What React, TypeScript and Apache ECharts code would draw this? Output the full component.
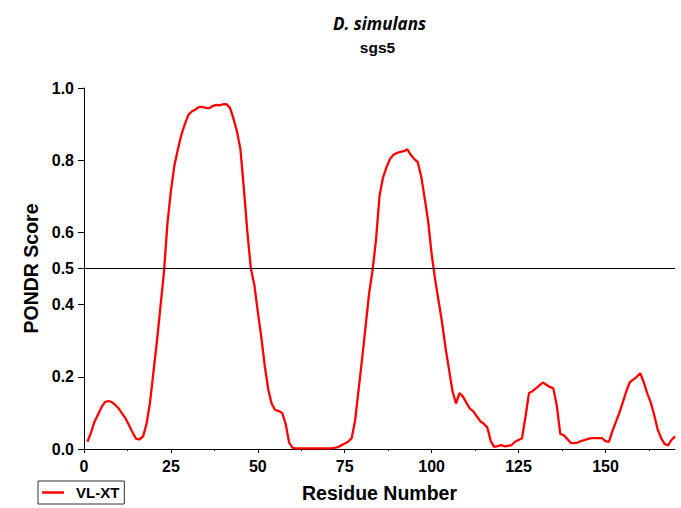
import React, { useEffect, useRef } from "react";
import * as echarts from "echarts";

const titleMain = "D. simulans";
const titleSub = "sgs5";
const seriesName = "VL-XT";
const xName = "Residue Number";
const yName = "PONDR Score";

const xTickValues = [0, 25, 50, 75, 100, 125, 150];
const xMinorTickValues = [12.5, 37.5, 62.5, 87.5, 112.5, 137.5, 162.5];
const yTickValues = [0, 0.2, 0.4, 0.5, 0.6, 0.8, 1.0];
const threshold = 0.5;

// PONDR VL-XT score per residue (residue 1..170)
const scores = [
  0.02, 0.045, 0.075, 0.095, 0.115, 0.13, 0.133, 0.13, 0.122, 0.112,
  0.098, 0.084, 0.065, 0.045, 0.028, 0.027, 0.035, 0.07, 0.13, 0.215,
  0.3, 0.395, 0.49, 0.625, 0.715, 0.785, 0.83, 0.87, 0.9, 0.925,
  0.935, 0.94, 0.947, 0.948, 0.945, 0.944, 0.95, 0.953, 0.952, 0.955,
  0.955, 0.945, 0.915, 0.88, 0.83, 0.72, 0.6, 0.5, 0.455, 0.38,
  0.31, 0.23, 0.165, 0.125, 0.108, 0.105, 0.1, 0.07, 0.018, 0.003,
  0.002, 0.002, 0.002, 0.002, 0.002, 0.002, 0.002, 0.002, 0.002, 0.002,
  0.002, 0.003, 0.005, 0.01, 0.015, 0.02, 0.03, 0.08, 0.165, 0.25,
  0.34, 0.43, 0.495, 0.58, 0.7, 0.752, 0.78, 0.803, 0.815, 0.82,
  0.823, 0.825, 0.83, 0.815, 0.803, 0.795, 0.755, 0.695, 0.63, 0.54,
  0.47, 0.41, 0.35, 0.28, 0.22, 0.16, 0.126, 0.155, 0.145, 0.128,
  0.112, 0.104, 0.09, 0.077, 0.07, 0.06, 0.022, 0.006, 0.008, 0.011,
  0.007, 0.009, 0.011, 0.02, 0.025, 0.03, 0.09, 0.155, 0.16, 0.168,
  0.176, 0.184, 0.178, 0.172, 0.168, 0.12, 0.042, 0.038, 0.028, 0.017,
  0.016, 0.018, 0.022, 0.025, 0.028, 0.03, 0.03, 0.03, 0.03, 0.022,
  0.02, 0.05, 0.075, 0.1, 0.13, 0.16, 0.185, 0.192, 0.2, 0.21,
  0.185, 0.155, 0.13, 0.095, 0.055, 0.03, 0.014, 0.01, 0.025, 0.035,
];
const residues = scores.map((_, i) => i + 1);

const AXIS_FONT = "'Liberation Sans', Arial, Helvetica, sans-serif";

export default function App() {
  const ref = useRef<HTMLDivElement>(null);
  useEffect(() => {
    document.body.style.margin = "0";
    if (!ref.current) return;
    const chart = echarts.init(ref.current, undefined, { renderer: "svg" });
    const gridLeft = 84;
    const gridRight = 6;
    const plotCenter = gridLeft + (681 - gridLeft - gridRight) / 2;
    chart.setOption({
      animation: false,
      backgroundColor: "#ffffff",
      grid: { left: gridLeft, right: gridRight, top: 88, bottom: 57, containLabel: false },
      graphic: [
        {
          type: "text",
          x: plotCenter,
          y: 23,
          style: {
            text: titleMain,
            fontFamily: "'Open Sans', sans-serif",
            fontStyle: "italic",
            fontWeight: "bold",
            fontSize: 17,
            fill: "#000",
            align: "center",
            verticalAlign: "middle",
          },
        },
        {
          type: "text",
          x: plotCenter - 2,
          y: 47,
          style: {
            text: titleSub,
            fontFamily: AXIS_FONT,
            fontWeight: "bold",
            fontSize: 15.5,
            fill: "#000",
            align: "center",
            verticalAlign: "middle",
          },
        },
      ],
      legend: {
        left: 38,
        top: 481,
        orient: "horizontal",
        padding: [4, 5, 4, 4],
        borderColor: "#333",
        borderWidth: 1,
        itemWidth: 22,
        itemHeight: 2.5,
        icon: "rect",
        data: [seriesName],
        textStyle: {
          fontFamily: AXIS_FONT,
          fontWeight: "bold",
          fontSize: 15,
          color: "#000",
          padding: [0, 0, 0, 7],
        },
      },
      xAxis: [
        {
          type: "value",
          min: 0,
          max: 170,
          name: xName,
          nameLocation: "middle",
          nameGap: 34,
          nameTextStyle: {
            fontFamily: AXIS_FONT,
            fontWeight: "bold",
            fontSize: 19.5,
            color: "#000",
          },
          splitLine: { show: false },
          axisLine: { show: true, onZero: false, lineStyle: { color: "#000", width: 1 } },
          axisTick: {
            show: true,
            length: 4,
            customValues: xTickValues,
            lineStyle: { color: "#000", width: 1 },
          },
          axisLabel: {
            show: true,
            customValues: xTickValues,
            margin: 9,
            fontFamily: AXIS_FONT,
            fontWeight: "bold",
            fontSize: 16,
            color: "#000",
          },
        },
        {
          type: "value",
          min: 0,
          max: 170,
          position: "bottom",
          splitLine: { show: false },
          axisLine: { show: false },
          axisTick: {
            show: true,
            length: 2,
            customValues: xMinorTickValues,
            lineStyle: { color: "#000", width: 1 },
          },
          axisLabel: { show: false },
        },
      ],
      yAxis: {
        type: "value",
        min: 0,
        max: 1,
        name: yName,
        nameLocation: "middle",
        nameGap: 42,
        nameTextStyle: {
          fontFamily: AXIS_FONT,
          fontWeight: "bold",
          fontSize: 19.5,
          color: "#000",
        },
        splitLine: { show: false },
        axisLine: { show: true, lineStyle: { color: "#000", width: 1 } },
        axisTick: {
          show: true,
          length: 6,
          customValues: yTickValues,
          lineStyle: { color: "#000", width: 1 },
        },
        axisLabel: {
          show: true,
          customValues: yTickValues,
          margin: 10,
          formatter: (v: number) => v.toFixed(1),
          fontFamily: AXIS_FONT,
          fontWeight: "bold",
          fontSize: 16,
          color: "#000",
        },
      },
      series: [
        {
          name: seriesName,
          type: "line",
          xAxisIndex: 0,
          data: residues.map((r, i) => [r, scores[i]]),
          showSymbol: false,
          symbol: "none",
          lineStyle: { color: "#ff0000", width: 2.3 },
          itemStyle: { color: "#ff0000" },
          markLine: {
            silent: true,
            symbol: "none",
            label: { show: false },
            lineStyle: { color: "#000", width: 1, type: "solid" },
            data: [{ yAxis: threshold }],
          },
        },
      ],
    });
    return () => chart.dispose();
  }, []);
  return <div ref={ref} style={{ width: 681, height: 508 }} />;
}
